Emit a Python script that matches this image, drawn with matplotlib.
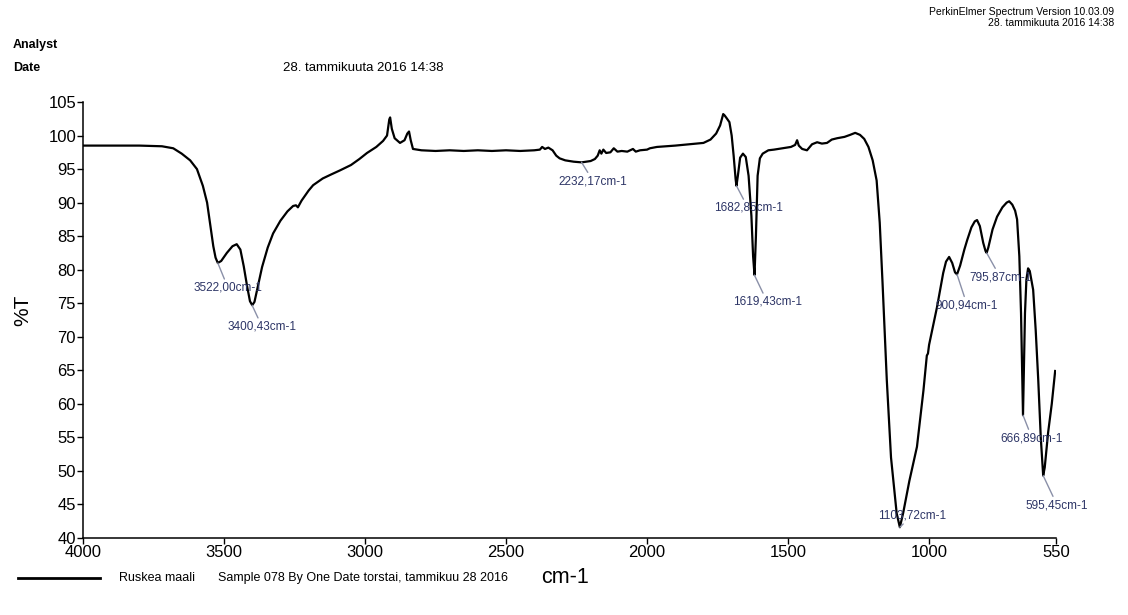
import numpy as np
import matplotlib
matplotlib.use("Agg")
import matplotlib.pyplot as plt

plt.rcParams['font.family'] = ['Liberation Sans', 'DejaVu Sans']

# spektri luettu kuvasta (aaltoluku cm-1, %T)
wn = [4000, 3900, 3800, 3720, 3680, 3650, 3620, 3596, 3575, 3560, 3548, 3538, 3530, 3522,
      3510, 3490, 3470, 3455, 3442, 3430, 3418, 3408, 3400, 3392, 3380, 3365, 3345, 3326,
      3300, 3275, 3255, 3245, 3238, 3225, 3200, 3184, 3150, 3120, 3089, 3050, 3020, 2993,
      2960, 2936, 2922, 2914, 2911, 2905, 2895, 2876, 2860, 2850, 2844, 2838, 2830, 2800,
      2750, 2700, 2650, 2600, 2550, 2500, 2450, 2400, 2380, 2372, 2362, 2350, 2335, 2322,
      2310, 2290, 2260, 2232, 2200, 2185, 2175, 2168, 2162, 2155, 2145, 2130, 2118, 2105,
      2090, 2070, 2050, 2040, 2025, 2000, 1990, 1965, 1900, 1850, 1800, 1775, 1755, 1741,
      1730, 1725, 1718, 1708, 1700, 1693, 1686, 1683, 1678, 1670, 1660, 1650, 1640, 1630,
      1624, 1619, 1614, 1608, 1600, 1590, 1570, 1550, 1520, 1490, 1475, 1468, 1462, 1450,
      1433, 1415, 1397, 1380, 1362, 1345, 1326, 1300, 1280, 1262, 1245, 1230, 1215, 1200,
      1186, 1175, 1165, 1150, 1135, 1115, 1103.7, 1092, 1070, 1043, 1020, 1008, 1004, 1000,
      985, 972, 950, 940, 929, 918, 908, 901, 890, 875, 865, 850, 838, 830, 820, 808, 800,
      796, 790, 775, 759, 740, 725, 716, 705, 695, 688, 680, 674, 669, 667, 664, 660, 655,
      649, 643, 631, 622, 613, 604, 595.45, 590, 578, 565, 553]
trans = [98.5, 98.5, 98.5, 98.4, 98.1, 97.3, 96.3, 95.0, 92.5, 90.0, 86.5, 83.5, 81.8, 81.0,
         81.3, 82.5, 83.5, 83.8, 83.0, 80.5, 77.5, 75.3, 74.7, 75.2, 77.5, 80.4, 83.3, 85.4,
         87.3, 88.7, 89.5, 89.6, 89.3, 90.3, 91.8, 92.6, 93.6, 94.2, 94.8, 95.6, 96.5, 97.4,
         98.3, 99.2, 100.0, 102.4, 102.7, 101.0, 99.6, 98.9, 99.3, 100.3, 100.6, 99.3, 98.0, 97.8,
         97.7, 97.8, 97.7, 97.8, 97.7, 97.8, 97.7, 97.8, 97.9, 98.3, 98.0, 98.2, 97.8, 97.0,
         96.6, 96.3, 96.1, 96.0, 96.2, 96.5, 97.0, 97.8, 97.3, 97.9, 97.4, 97.5, 98.1, 97.6,
         97.7, 97.6, 98.0, 97.6, 97.8, 97.9, 98.1, 98.3, 98.5, 98.7, 98.9, 99.4, 100.3, 101.5,
         103.2, 103.0, 102.6, 102.0, 100.0, 97.0, 93.5, 92.5, 94.0, 96.7, 97.3, 96.8, 94.0, 88.0,
         82.0, 79.2, 85.0, 94.0, 96.6, 97.3, 97.8, 97.9, 98.1, 98.3, 98.6, 99.3, 98.5, 98.0,
         97.8, 98.7, 99.0, 98.8, 98.9, 99.4, 99.6, 99.8, 100.1, 100.4, 100.1, 99.5, 98.3, 96.3,
         93.3, 87.0, 78.0, 63.6, 52.0, 43.7, 41.6, 43.7, 48.5, 53.6, 62.0, 67.2, 67.5, 68.8,
         71.8, 74.4, 79.5, 81.2, 81.9, 81.0, 79.6, 79.3, 80.6, 83.0, 84.4, 86.3, 87.2, 87.4, 86.5, 84.0, 82.8,
         82.5, 83.3, 86.0, 87.9, 89.3, 90.0, 90.2, 89.7, 88.8, 87.5, 82.0, 73.5, 62.0, 58.3, 65.0, 73.5, 78.5,
         80.2, 79.8, 77.0, 71.0, 63.6, 55.0, 49.3, 50.5, 55.7, 60.0, 64.9]

# merkityt piikit
peak_labels = ["3522,00cm-1", "3400,43cm-1", "2232,17cm-1", "1682,85cm-1", "1619,43cm-1",
               "1103,72cm-1", "900,94cm-1", "795,87cm-1", "666,89cm-1", "595,45cm-1"]
peak_wn = [3522.00, 3400.43, 2232.17, 1682.85, 1619.43, 1103.72, 900.94, 795.87, 666.89, 595.45]
peak_T = [81.0, 74.7, 96.0, 92.5, 79.2, 41.6, 79.3, 82.5, 58.3, 49.3]
# tekstin paikat (data-koordinaateissa)
text_pos = [(3486, 77.3), (3365, 71.5), (2191, 93.2), (1642, 89.2), (1574, 75.2),
            (1060, 43.4), (865, 74.7), (748, 78.9), (635, 54.9), (546, 44.9)]

xticks = [4000, 3500, 3000, 2500, 2000, 1500, 1000, 550]
yticks = list(range(40, 106, 5))

W, H = 1128, 615
fig = plt.figure(figsize=(W / 100, H / 100), dpi=100)
ax = fig.add_axes([83 / W, 1 - 538 / H, 973 / W, 436 / H])

ax.plot(wn, trans, color="black", lw=1.6)
ax.set_xlim(4000, 550)
ax.set_ylim(40, 105)
ax.set_xticks(xticks)
ax.set_yticks(yticks)
ax.tick_params(direction="out", length=4, width=1, labelsize=12, pad=1)
for s in ["top", "right"]:
    ax.spines[s].set_visible(False)
for s in ["left", "bottom"]:
    ax.spines[s].set_linewidth(1.1)

for lab, x, y, tp in zip(peak_labels, peak_wn, peak_T, text_pos):
    ax.annotate(lab, xy=(x, y), xytext=tp, ha="center", va="center",
                fontsize=8.5, color="#2d3566",
                arrowprops=dict(arrowstyle="-", color="#8a90a8", lw=1,
                                shrinkA=0, shrinkB=0))

ax.set_xlabel("cm-1", fontsize=15.5, labelpad=0)
ax.xaxis.set_label_coords((565 - 83) / 973, -(567 - 538) / 436)
ax.set_ylabel("%T", fontsize=15, labelpad=0)
ax.yaxis.set_label_coords(-(83 - 32) / 973, (538 - 310) / 436)

# otsikkotekstit
fig.text(13 / W, 1 - 45 / H, "Analyst", fontsize=9, fontweight="bold", va="center")
fig.text(13 / W, 1 - 68 / H, "Date", fontsize=9, fontweight="bold", va="center")
fig.text(283 / W, 1 - 68 / H, "28. tammikuuta 2016 14:38", fontsize=9.5, va="center")
fig.text(1114 / W, 1 - 12 / H, "PerkinElmer Spectrum Version 10.03.09", fontsize=7.5,
         ha="right", va="center")
fig.text(1114 / W, 1 - 23 / H, "28. tammikuuta 2016 14:38", fontsize=7.5,
         ha="right", va="center")

# selite alhaalla
fig.add_artist(plt.Line2D([18 / W, 100 / W], [1 - 578 / H, 1 - 578 / H],
                          color="black", lw=2))
fig.text(119 / W, 1 - 578 / H, "Ruskea maali", fontsize=9, va="center")
fig.text(218 / W, 1 - 578 / H, "Sample 078 By One Date torstai, tammikuu 28 2016",
         fontsize=9, va="center")

fig.savefig("out.png", dpi=100)
